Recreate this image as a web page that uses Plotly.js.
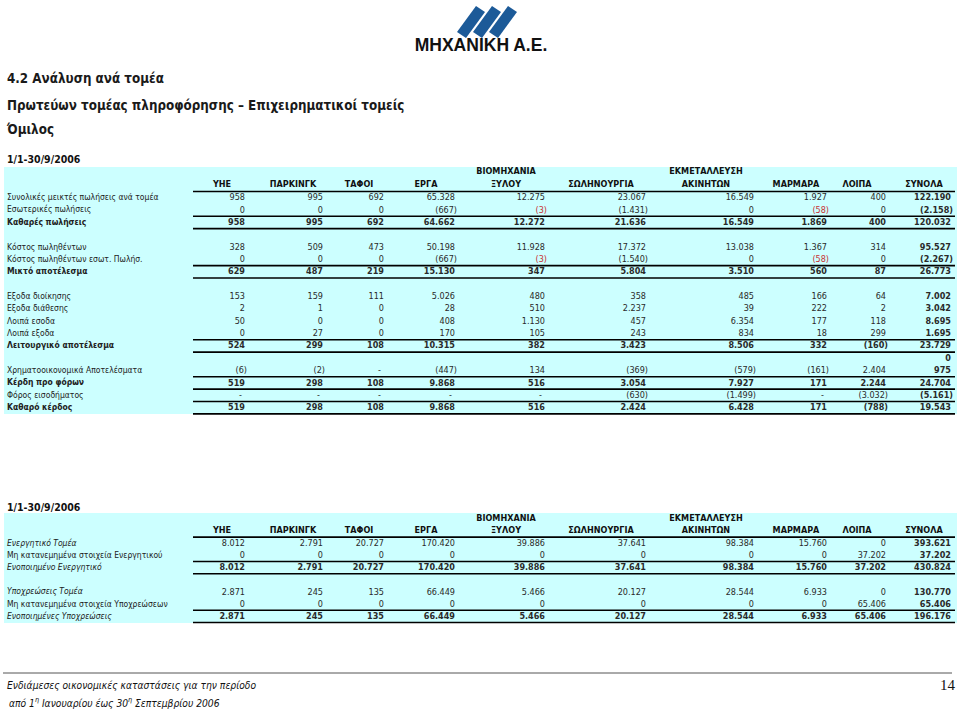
<!DOCTYPE html>
<html>
<head>
<meta charset="utf-8">
<script src="https://cdn.plot.ly/plotly-3.0.1.min.js"></script>
<style>
html, body { margin: 0; padding: 0; background: #fff; }
#page { width: 960px; height: 711px; }
</style>
</head>
<body>
<div id="page"></div>
<script>
// ---- data ----
var headings = ["4.2 Ανάλυση ανά τομέα",
                "Πρωτεύων τομέας πληροφόρησης – Επιχειρηματικοί τομείς",
                "Όμιλος"];
var period = "1/1-30/9/2006";

var colHead1 = ["", "", "", "", "ΒΙΟΜΗΧΑΝΙΑ", "", "ΕΚΜΕΤΑΛΛΕΥΣΗ", "", "", ""];
var colHead2 = ["ΥΗΕ", "ΠΑΡΚΙΝΓΚ", "ΤΑΦΟΙ", "ΕΡΓΑ", "ΞΥΛΟΥ", "ΣΩΛΗΝΟΥΡΓΙΑ", "ΑΚΙΝΗΤΩΝ", "ΜΑΡΜΑΡΑ", "ΛΟΙΠΑ", "ΣΥΝΟΛΑ"];

// results by segment
var resLabels = [
  "Συνολικές μεικτές πωλήσεις ανά τομέα",
  "Εσωτερικές πωλήσεις",
  "Καθαρές πωλήσεις",
  "",
  "Κόστος πωληθέντων",
  "Κόστος πωληθέντων εσωτ. Πωλήσ.",
  "Μικτό αποτέλεσμα",
  "",
  "Εξοδα διοίκησης",
  "Εξοδα διάθεσης",
  "Λοιπά εσοδα",
  "Λοιπά εξοδα",
  "Λειτουργικό αποτέλεσμα",
  "",
  "Χρηματοοικονομικά Αποτελέσματα",
  "Κέρδη προ φόρων",
  "Φόρος εισοδήματος",
  "Καθαρό κέρδος"
];
var resValues = [
  ["958", "995", "692", "65.328", "12.275", "23.067", "16.549", "1.927", "400", "122.190"],
  ["0", "0", "0", "(667)", "(3)", "(1.431)", "0", "(58)", "0", "(2.158)"],
  ["958", "995", "692", "64.662", "12.272", "21.636", "16.549", "1.869", "400", "120.032"],
  ["", "", "", "", "", "", "", "", "", ""],
  ["328", "509", "473", "50.198", "11.928", "17.372", "13.038", "1.367", "314", "95.527"],
  ["0", "0", "0", "(667)", "(3)", "(1.540)", "0", "(58)", "0", "(2.267)"],
  ["629", "487", "219", "15.130", "347", "5.804", "3.510", "560", "87", "26.773"],
  ["", "", "", "", "", "", "", "", "", ""],
  ["153", "159", "111", "5.026", "480", "358", "485", "166", "64", "7.002"],
  ["2", "1", "0", "28", "510", "2.237", "39", "222", "2", "3.042"],
  ["50", "0", "0", "408", "1.130", "457", "6.354", "177", "118", "8.695"],
  ["0", "27", "0", "170", "105", "243", "834", "18", "299", "1.695"],
  ["524", "299", "108", "10.315", "382", "3.423", "8.506", "332", "(160)", "23.729"],
  ["", "", "", "", "", "", "", "", "", "0"],
  ["(6)", "(2)", "-", "(447)", "134", "(369)", "(579)", "(161)", "2.404", "975"],
  ["519", "298", "108", "9.868", "516", "3.054", "7.927", "171", "2.244", "24.704"],
  ["-", "-", "-", "-", "-", "(630)", "(1.499)", "-", "(3.032)", "(5.161)"],
  ["519", "298", "108", "9.868", "516", "2.424", "6.428", "171", "(788)", "19.543"]
];
var resTotals = [2, 6, 12, 15, 17];
var resRed = [[1, 4], [1, 7], [5, 4], [5, 7]];

// assets and liabilities by segment
var balLabels = [
  "Ενεργητικό Τομέα",
  "Μη κατανεμημένα στοιχεία Ενεργητικού",
  "Ενοποιημένο Ενεργητικό",
  "",
  "Υποχρεώσεις Τομέα",
  "Μη κατανεμημένα στοιχεία Υποχρεώσεων",
  "Ενοποιημένες Υποχρεώσεις"
];
var balValues = [
  ["8.012", "2.791", "20.727", "170.420", "39.886", "37.641", "98.384", "15.760", "0", "393.621"],
  ["0", "0", "0", "0", "0", "0", "0", "0", "37.202", "37.202"],
  ["8.012", "2.791", "20.727", "170.420", "39.886", "37.641", "98.384", "15.760", "37.202", "430.824"],
  ["", "", "", "", "", "", "", "", "", ""],
  ["2.871", "245", "135", "66.449", "5.466", "20.127", "28.544", "6.933", "0", "130.770"],
  ["0", "0", "0", "0", "0", "0", "0", "0", "65.406", "65.406"],
  ["2.871", "245", "135", "66.449", "5.466", "20.127", "28.544", "6.933", "65.406", "196.176"]
];
var balTotals = [2, 6];
var balItalic = [0, 2, 4, 6];

var footer1 = "Ενδιάμεσες οικονομικές καταστάσεις για την περίοδο";
var footer2 = "από 1<sup>η</sup> Ιανουαρίου έως 30<sup>η</sup> Σεπτεμβρίου 2006";
var pageNo = "14";
var company = "ΜΗΧΑΝΙΚΗ Α.Ε.";

// ---- layout constants ----
var FONT = "DejaVu Sans Condensed, Liberation Sans, sans-serif";
var TXT = 9;       // numbers and column headers
var LAB = 8.5;     // row labels
var valX = [245, 323, 384, 455, 545, 646, 754, 827, 886, 951];
var headX = [222, 293, 359, 426, 506, 601, 706, 796, 857, 924];
var labelX = 7;
var lineX0 = 193, lineX1 = 955;

var t1 = { periodY: 160, head1: 172, head2: 185, y0: 198, step: 12.35, top: 167, bottom: 414 };
var t2 = { periodY: 508, head1: 518.5, head2: 531, y0: 543.5, step: 12.2, top: 513, bottom: 623 };

var traces = [];
var shapes = [];

function textTrace(xs, ys, texts, pos, font) {
  if (!texts.length) return;
  traces.push({
    type: "scatter", mode: "text", x: xs, y: ys, text: texts,
    textposition: pos, textfont: font, hoverinfo: "skip", cliponaxis: false
  });
}
function isIn(list, v) { return list.indexOf(v) >= 0; }

function buildTable(t, labels, values, totals, opts) {
  // background
  shapes.push({ type: "rect", xref: "x", yref: "y", x0: 4, x1: 957, y0: t.top, y1: t.bottom,
                fillcolor: "#ccffff", line: { width: 0 }, layer: "below" });
  // period
  textTrace([labelX], [t.periodY], ["<b>" + period + "</b>"], "middle right",
            { family: FONT, size: 10.5, color: "#111" });
  // headers
  var hx = [], hy = [], ht = [];
  colHead1.forEach(function (h, j) { if (h) { hx.push(headX[j]); hy.push(t.head1); ht.push("<b>" + h + "</b>"); } });
  colHead2.forEach(function (h, j) { hx.push(headX[j]); hy.push(t.head2); ht.push("<b>" + h + "</b>"); });
  textTrace(hx, hy, ht, "middle center", { family: FONT, size: TXT, color: "#111" });

  // labels
  var lx = [], ly = [], lt = [];
  labels.forEach(function (lab, i) {
    if (!lab) return;
    var s = lab;
    if (opts.italic && isIn(opts.italic, i)) s = "<i>" + s + "</i>";
    else if (isIn(totals, i) && !opts.italic) s = "<b>" + s + "</b>";
    lx.push(labelX); ly.push(t.y0 + i * t.step); lt.push(s);
  });
  textTrace(lx, ly, lt, "middle right", { family: FONT, size: LAB, color: "#222" });

  // values (red cells go in their own trace)
  var vx = [], vy = [], vt = [], rx = [], ry = [], rt = [];
  values.forEach(function (row, i) {
    row.forEach(function (v, j) {
      if (v === "") return;
      var s = v;
      if (isIn(totals, i) || j === row.length - 1) s = "<b>" + s + "</b>";
      var x = valX[j] + (v.charAt(0) === "(" ? 2 : 0) + (v === "-" ? -3 : 0);
      var y = t.y0 + i * t.step;
      var red = opts.red && opts.red.some(function (c) { return c[0] === i && c[1] === j; });
      if (red) { rx.push(x); ry.push(y); rt.push(s); }
      else { vx.push(x); vy.push(y); vt.push(s); }
    });
  });
  textTrace(vx, vy, vt, "middle left", { family: FONT, size: TXT, color: "#2a2a2a" });
  textTrace(rx, ry, rt, "middle left", { family: FONT, size: TXT, color: "#c83232" });

  // rules: under header, above and below total rows
  var bounds = [-1];
  totals.forEach(function (r) {
    if (!isIn(bounds, r - 1)) bounds.push(r - 1);
    if (!isIn(bounds, r)) bounds.push(r);
  });
  bounds.forEach(function (b) {
    var y = t.y0 + b * t.step + t.step / 2 - 0.3;
    shapes.push({ type: "line", xref: "x", yref: "y", x0: lineX0, x1: lineX1, y0: y, y1: y,
                  line: { color: "#000", width: 1.6 } });
  });
}

// page headings
textTrace([labelX, labelX, labelX], [80, 107, 131], headings.map(function (h) { return "<b>" + h + "</b>"; }),
          "middle right", { family: FONT, size: 13.3, color: "#1a1a1a" });

// logo
var stripe = [[457, 32], [476, 6], [485, 12], [466, 38]];
[0, 16, 32].forEach(function (dx) {
  var p = stripe.map(function (c, k) { return (k ? "L" : "M") + (c[0] + dx) + "," + c[1]; }).join(" ") + " Z";
  shapes.push({ type: "path", xref: "x", yref: "y", path: p, fillcolor: "#1c5a98", line: { width: 0 } });
});
textTrace([481], [47], ["<b>" + company + "</b>"], "middle center",
          { family: "Liberation Sans, Arial, sans-serif", size: 17.5, color: "#111" });

buildTable(t1, resLabels, resValues, resTotals, { red: resRed });
buildTable(t2, balLabels, balValues, balTotals, { italic: balItalic });

// footer
shapes.push({ type: "line", xref: "x", yref: "y", x0: 3, x1: 952, y0: 673, y1: 673,
              line: { color: "#555", width: 1 } });
textTrace([labelX, labelX + 2], [686, 704], ["<i>" + footer1 + "</i>", "<i>" + footer2 + "</i>"],
          "middle right", { family: FONT, size: 10.2, color: "#111" });
textTrace([955], [686], [pageNo], "middle left",
          { family: "Liberation Serif, Times New Roman, serif", size: 15, color: "#111" });

var layout = {
  width: 960, height: 711,
  margin: { l: 0, r: 0, t: 0, b: 0 },
  paper_bgcolor: "#fff", plot_bgcolor: "#fff",
  showlegend: false,
  xaxis: { range: [0, 960], visible: false, fixedrange: true },
  yaxis: { range: [711, 0], visible: false, fixedrange: true },
  shapes: shapes
};

Plotly.newPlot("page", traces, layout, { staticPlot: true, displayModeBar: false });
</script>
</body>
</html>
